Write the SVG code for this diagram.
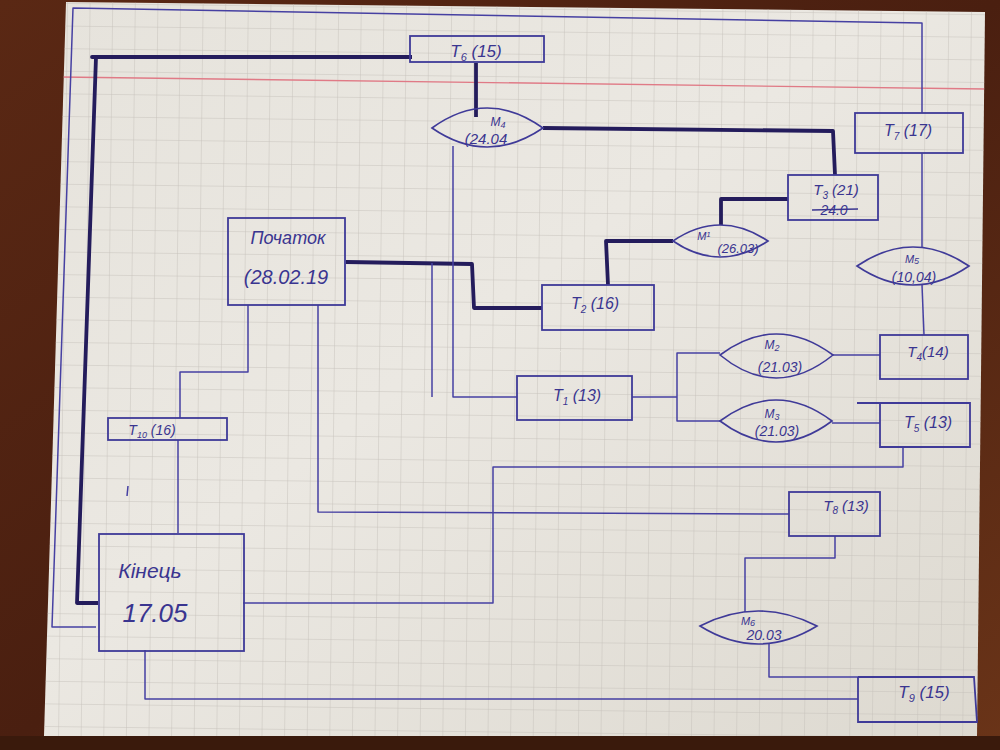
<svg xmlns="http://www.w3.org/2000/svg" width="1000" height="750" viewBox="0 0 1000 750">
<defs>
<linearGradient id="wood" x1="0" y1="0" x2="1" y2="1">
<stop offset="0" stop-color="#5a2814"/>
<stop offset="0.5" stop-color="#4a1f10"/>
<stop offset="1" stop-color="#6a3418"/>
</linearGradient>
<linearGradient id="paperg" x1="0" y1="0" x2="1" y2="1">
<stop offset="0" stop-color="#e6e3dc"/>
<stop offset="0.45" stop-color="#ebe8e2"/>
<stop offset="1" stop-color="#ddd9d0"/>
</linearGradient>
<pattern id="grid" width="22.6" height="22.6" patternUnits="userSpaceOnUse" patternTransform="translate(68,4) rotate(0.7)">
<path d="M22.6 0 V22.6 M0 22.6 H22.6" fill="none" stroke="#c4c0b8" stroke-width="0.9"/>
</pattern>
<clipPath id="paperclip"><polygon points="66,2 985,12 977,736 44,736"/></clipPath>
<style>
.box{fill:none;stroke:#3f3a98;stroke-width:1.8}
.lens{fill:none;stroke:#3f3a98;stroke-width:1.6}
.thin{fill:none;stroke:#4640a2;stroke-width:1.5;stroke-linejoin:round}
.thick{fill:none;stroke:#241c5c;stroke-width:3.8;stroke-linejoin:round}
.t{font-family:"Liberation Sans","DejaVu Sans",sans-serif;font-style:italic;fill:#3a3590;text-anchor:middle}
</style>
</defs>
<rect width="1000" height="750" fill="url(#wood)"/>
<rect x="0" y="736" width="1000" height="14" fill="#3a1a0c"/>
<polygon points="66,2 985,12 977,736 44,736" fill="url(#paperg)"/>
<g clip-path="url(#paperclip)">
<rect width="1000" height="750" fill="url(#grid)"/>
<line x1="60" y1="77" x2="985" y2="89" stroke="#e07a86" stroke-width="1.4"/>
</g>

<g id="connectors">
<polyline class="thick" points="412,57 92,57 96,57 77,603 98,603"/>
<polyline class="thin" points="922,113 922,23 73,8 52,627 96,627"/>
<polyline class="thick" points="476,63 476,117"/>
<polyline class="thick" points="543,128 833,131 835,175"/>
<polyline class="thick" points="673,241 606,241 608,285"/>
<polyline class="thick" points="721,225 721,199 788,199"/>
<polyline class="thick" points="346,262 472,264 474,308 542,308"/>
<polyline class="thin" points="453,146 453,397 517,397"/>
<polyline class="thin" points="432,263 432,397"/>
<polyline class="thin" points="922,153 922,247"/>
<polyline class="thin" points="922,285 924,335"/>
<polyline class="thin" points="632,397 677,397"/>
<polyline class="thin" points="720,353 677,353 677,421 720,421"/>
<polyline class="thin" points="833,355 880,355"/>
<polyline class="thin" points="832,423 880,423"/>
<polyline class="thin" points="903,447 903,467 493,467 493,603 243,603"/>
<polyline class="thin" points="318,305 318,512 789,514"/>
<polyline class="thin" points="248,305 248,372 180,372 180,418"/>
<polyline class="thin" points="178,440 178,533"/>
<polyline class="thin" points="835,536 835,558 745,558 745,612"/>
<polyline class="thin" points="769,643 769,677 858,677"/>
<polyline class="thin" points="145,650 145,699 858,699"/>
<line class="thin" x1="128" y1="486" x2="127" y2="496"/>
</g>

<g id="pochatok">
<rect class="box" x="228" y="218" width="117" height="87"/>
<text class="t" x="288" y="244" font-size="18">Початок</text>
<text class="t" x="286" y="284" font-size="20">(28.02.19</text>
</g>

<g id="t6">
<rect class="box" x="410" y="36" width="134" height="26"/>
<text class="t" x="476" y="57" font-size="17">T<tspan font-size="11" dy="4">6</tspan><tspan dy="-4"> (15)</tspan></text>
</g>

<g id="m4">
<path class="lens" d="M432,128 Q487,88 543,128 Q487,166 432,128 Z"/>
<text class="t" x="498" y="126" font-size="12">M<tspan font-size="9" dy="2">4</tspan></text>
<text class="t" x="486" y="144" font-size="15">(24.04</text>
</g>

<g id="t7">
<rect class="box" x="855" y="113" width="108" height="40"/>
<text class="t" x="908" y="136" font-size="16">T<tspan font-size="10" dy="4">7</tspan><tspan dy="-4"> (17)</tspan></text>
</g>

<g id="t3">
<rect class="box" x="788" y="175" width="90" height="45"/>
<text class="t" x="836" y="195" font-size="15">T<tspan font-size="10" dy="4">3</tspan><tspan dy="-4"> (21)</tspan></text>
<text class="t" x="834" y="215" font-size="14">24.0</text>
<line x1="812" y1="210" x2="858" y2="209" stroke="#3a3590" stroke-width="1.4"/>
</g>

<g id="m1">
<path class="lens" d="M673,241 Q720,209 768,241 Q720,273 673,241 Z"/>
<text class="t" x="704" y="240" font-size="11">M<tspan font-size="8" dy="-3">1</tspan></text>
<text class="t" x="738" y="253" font-size="13">(26.03)</text>
</g>

<g id="m5">
<path class="lens" d="M857,266 Q913,228 969,266 Q913,304 857,266 Z"/>
<text class="t" x="912" y="263" font-size="11">M<tspan font-size="9" dy="1">5</tspan></text>
<text class="t" x="914" y="282" font-size="14">(10,04)</text>
</g>

<g id="t2">
<rect class="box" x="542" y="285" width="112" height="45"/>
<text class="t" x="595" y="309" font-size="16">T<tspan font-size="10" dy="4">2</tspan><tspan dy="-4"> (16)</tspan></text>
</g>

<g id="t4">
<rect class="box" x="880" y="335" width="88" height="44"/>
<text class="t" x="928" y="357" font-size="15">T<tspan font-size="10" dy="4">4</tspan><tspan dy="-4">(14)</tspan></text>
</g>

<g id="m2">
<path class="lens" d="M720,355 Q776,313 833,355 Q776,401 720,355 Z"/>
<text class="t" x="772" y="349" font-size="12">M<tspan font-size="9" dy="2">2</tspan></text>
<text class="t" x="780" y="372" font-size="14">(21.03)</text>
</g>

<g id="m3">
<path class="lens" d="M720,421 Q776,379 832,421 Q776,463 720,421 Z"/>
<text class="t" x="772" y="418" font-size="12">M<tspan font-size="9" dy="2">3</tspan></text>
<text class="t" x="777" y="436" font-size="14">(21.03)</text>
</g>

<g id="t1">
<rect class="box" x="517" y="376" width="115" height="44"/>
<text class="t" x="577" y="401" font-size="16">T<tspan font-size="10" dy="4">1</tspan><tspan dy="-4"> (13)</tspan></text>
</g>

<g id="t5">
<polyline class="box" points="857,403 970,403 970,447 880,447 880,403"/>
<text class="t" x="928" y="428" font-size="16">T<tspan font-size="10" dy="4">5</tspan><tspan dy="-4"> (13)</tspan></text>
</g>

<g id="t10">
<rect class="box" x="108" y="418" width="119" height="22"/>
<text class="t" x="152" y="435" font-size="14">T<tspan font-size="9" dy="3">10</tspan><tspan dy="-3"> (16)</tspan></text>
</g>

<g id="kinets">
<rect class="box" x="99" y="534" width="145" height="117"/>
<text class="t" x="150" y="578" font-size="21">Кінець</text>
<text class="t" x="155" y="622" font-size="26">17.05</text>
</g>

<g id="t8">
<rect class="box" x="789" y="492" width="91" height="44"/>
<text class="t" x="846" y="511" font-size="15">T<tspan font-size="10" dy="3">8</tspan><tspan dy="-3"> (13)</tspan></text>
</g>

<g id="m6">
<path class="lens" d="M700,626 Q758,596 817,626 Q758,662 700,626 Z"/>
<text class="t" x="748" y="625" font-size="11">M<tspan font-size="9" dy="1">6</tspan></text>
<text class="t" x="764" y="640" font-size="14">20.03</text>
</g>

<g id="t9">
<polyline class="box" points="858,677 974,677 977,722 858,722 858,677"/>
<text class="t" x="924" y="698" font-size="17">T<tspan font-size="11" dy="4">9</tspan><tspan dy="-4"> (15)</tspan></text>
</g>
</svg>
